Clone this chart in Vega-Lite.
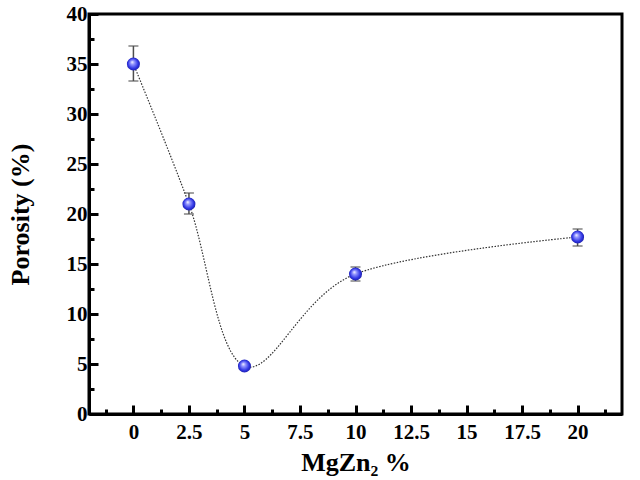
{
  "$schema": "https://vega.github.io/schema/vega-lite/v6.json",
  "autosize": {"type": "none"},
  "padding": {"left": 89, "top": 14, "right": 18, "bottom": 66},
  "width": 533,
  "height": 400,
  "background": "white",
  "data": {
    "values": [
      {"mgzn2": 0, "porosity": 35.0, "lo": 33.3, "hi": 36.8},
      {"mgzn2": 2.5, "porosity": 21.0, "lo": 20.0, "hi": 22.1},
      {"mgzn2": 5, "porosity": 4.8, "lo": 4.6, "hi": 5.0},
      {"mgzn2": 10, "porosity": 14.0, "lo": 13.3, "hi": 14.7},
      {"mgzn2": 20, "porosity": 17.7, "lo": 16.8, "hi": 18.5}
    ]
  },
  "encoding": {
    "x": {
      "field": "mgzn2",
      "type": "quantitative",
      "scale": {"domain": [-2, 22], "nice": false, "zero": false},
      "axis": {
        "title": "MgZn₂ %",
        "values": [-1.25, 0, 1.25, 2.5, 3.75, 5, 6.25, 7.5, 8.75, 10, 11.25, 12.5, 13.75, 15, 16.25, 17.5, 18.75, 20, 21.25],
        "labelExpr": "datum.value % 2.5 == 0 ? format(datum.value, '~g') : ''",
        "tickSize": {"condition": {"test": "datum.value % 2.5 == 0", "value": -9}, "value": -5},
        "labelPadding": 16,
        "titlePadding": 7
      }
    },
    "y": {
      "field": "porosity",
      "type": "quantitative",
      "scale": {"domain": [0, 40], "nice": false},
      "axis": {
        "title": "Porosity (%)",
        "values": [0, 2.5, 5, 7.5, 10, 12.5, 15, 17.5, 20, 22.5, 25, 27.5, 30, 32.5, 35, 37.5, 40],
        "labelExpr": "datum.value % 5 == 0 ? format(datum.value, '~g') : ''",
        "tickSize": {"condition": {"test": "datum.value % 5 == 0", "value": -9}, "value": -5},
        "labelPadding": 11,
        "titlePadding": 33
      }
    }
  },
  "layer": [
    {
      "mark": {"type": "line", "interpolate": "cardinal", "tension": 0, "color": "#333333", "strokeWidth": 1.2, "strokeDash": [1.5, 1.5]}
    },
    {
      "mark": {"type": "rule", "color": "#4d4d4d", "strokeWidth": 1.5},
      "encoding": {"y": {"field": "lo", "type": "quantitative"}, "y2": {"field": "hi"}}
    },
    {
      "mark": {"type": "tick", "orient": "horizontal", "color": "#4d4d4d", "size": 10, "thickness": 1.5},
      "encoding": {"y": {"field": "lo", "type": "quantitative"}}
    },
    {
      "mark": {"type": "tick", "orient": "horizontal", "color": "#4d4d4d", "size": 10, "thickness": 1.5},
      "encoding": {"y": {"field": "hi", "type": "quantitative"}}
    },
    {
      "mark": {
        "type": "point",
        "shape": "circle",
        "size": 170,
        "filled": true,
        "opacity": 1,
        "strokeWidth": 0,
        "fill": {
          "gradient": "radial",
          "x1": 0.4, "y1": 0.35, "r1": 0,
          "x2": 0.5, "y2": 0.5, "r2": 0.55,
          "stops": [
            {"offset": 0, "color": "#ffffff"},
            {"offset": 0.25, "color": "#9a9cff"},
            {"offset": 0.7, "color": "#3036e6"},
            {"offset": 1, "color": "#1a1a9a"}
          ]
        }
      }
    }
  ],
  "config": {
    "view": {"stroke": "black", "strokeWidth": 3},
    "axis": {
      "grid": false,
      "domainColor": "black",
      "domainWidth": 3,
      "tickColor": "black",
      "tickWidth": 3,
      "labelFont": "Liberation Serif",
      "labelFontWeight": "bold",
      "labelFontSize": 21,
      "labelColor": "black",
      "titleFont": "Liberation Serif",
      "titleFontWeight": "bold",
      "titleFontSize": 26,
      "titleColor": "black"
    }
  }
}
